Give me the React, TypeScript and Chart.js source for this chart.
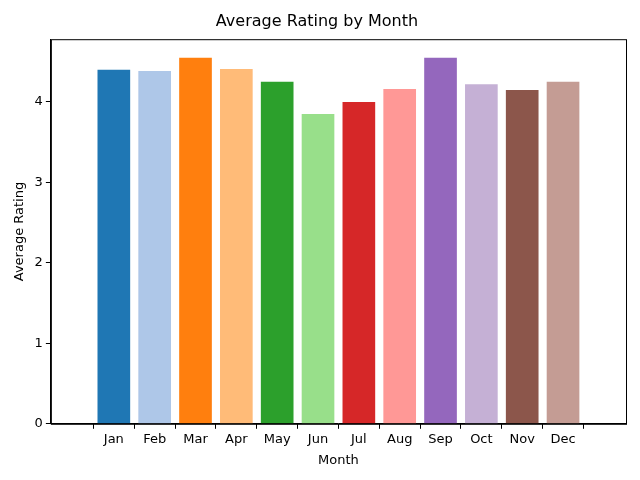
import { useEffect, useRef } from 'react';
import { Chart, registerables } from 'chart.js';

Chart.register(...registerables);

const months = ['Jan', 'Feb', 'Mar', 'Apr', 'May', 'Jun', 'Jul', 'Aug', 'Sep', 'Oct', 'Nov', 'Dec'];
const ratings = [4.4, 4.385, 4.55, 4.41, 4.25, 3.85, 4.0, 4.16, 4.55, 4.22, 4.15, 4.25];
const colors = ['#1f77b4', '#aec7e8', '#ff7f0e', '#ffbb78', '#2ca02c', '#98df8a', '#d62728', '#ff9896', '#9467bd', '#c5b0d5', '#8c564b', '#c49c94'];

const frame = {
    id: 'frame',
    afterDraw(chart: Chart) {
        const { ctx, chartArea: a } = chart;
        ctx.save();
        ctx.strokeStyle = '#000';
        ctx.lineWidth = 1;
        ctx.strokeRect(a.left + 0.5, a.top + 0.5, a.right - a.left, a.bottom - a.top);
        ctx.restore();
    }
};

export default function App() {
    const chartRef = useRef<HTMLCanvasElement>(null);

    useEffect(() => {
        if (!chartRef.current) return;
        const font = { family: 'DejaVu Sans', size: 13 };
        const chart = new Chart(chartRef.current, {
            type: 'bar',
            data: {
                datasets: [{
                    data: ratings.map((v, i) => ({ x: i, y: v })),
                    backgroundColor: colors,
                    barPercentage: 0.8,
                    categoryPercentage: 1
                }]
            },
            options: {
                animation: false,
                responsive: false,
                layout: { padding: { left: 8, right: 14, top: 0, bottom: 8 } },
                plugins: {
                    legend: { display: false },
                    tooltip: { enabled: false },
                    title: {
                        display: true,
                        text: 'Average Rating by Month',
                        color: '#000',
                        font: { family: 'DejaVu Sans', size: 16, weight: 'normal' },
                        padding: { top: 12, bottom: 8 }
                    }
                },
                scales: {
                    x: {
                        type: 'linear',
                        min: -0.955,
                        max: 11.955,
                        afterBuildTicks: (s: any) => { s.ticks = months.map((_, i) => ({ value: i })); },
                        ticks: { color: '#000', font, callback: (v: any) => months[v] ?? '', autoSkip: false, maxRotation: 0 },
                        grid: { drawOnChartArea: false, tickLength: 5, color: '#000' },
                        border: { color: '#000' },
                        title: { display: true, text: 'Month', color: '#000', font, padding: { top: 2 } }
                    },
                    y: {
                        min: 0,
                        max: 4.78,
                        afterBuildTicks: (s: any) => { s.ticks = [0, 1, 2, 3, 4].map(v => ({ value: v })); },
                        ticks: { color: '#000', font, stepSize: 1 },
                        grid: { drawOnChartArea: false, tickLength: 5, color: '#000' },
                        border: { color: '#000' },
                        title: { display: true, text: 'Average Rating', color: '#000', font, padding: { bottom: 4 } }
                    }
                }
            },
            plugins: [frame]
        });
        return () => chart.destroy();
    }, []);

    return (
        <div style={{ position: 'absolute', left: 0, top: 0, width: 640, height: 480, background: '#fff' }}>
            <canvas ref={chartRef} width={640} height={480}></canvas>
        </div>
    );
}
